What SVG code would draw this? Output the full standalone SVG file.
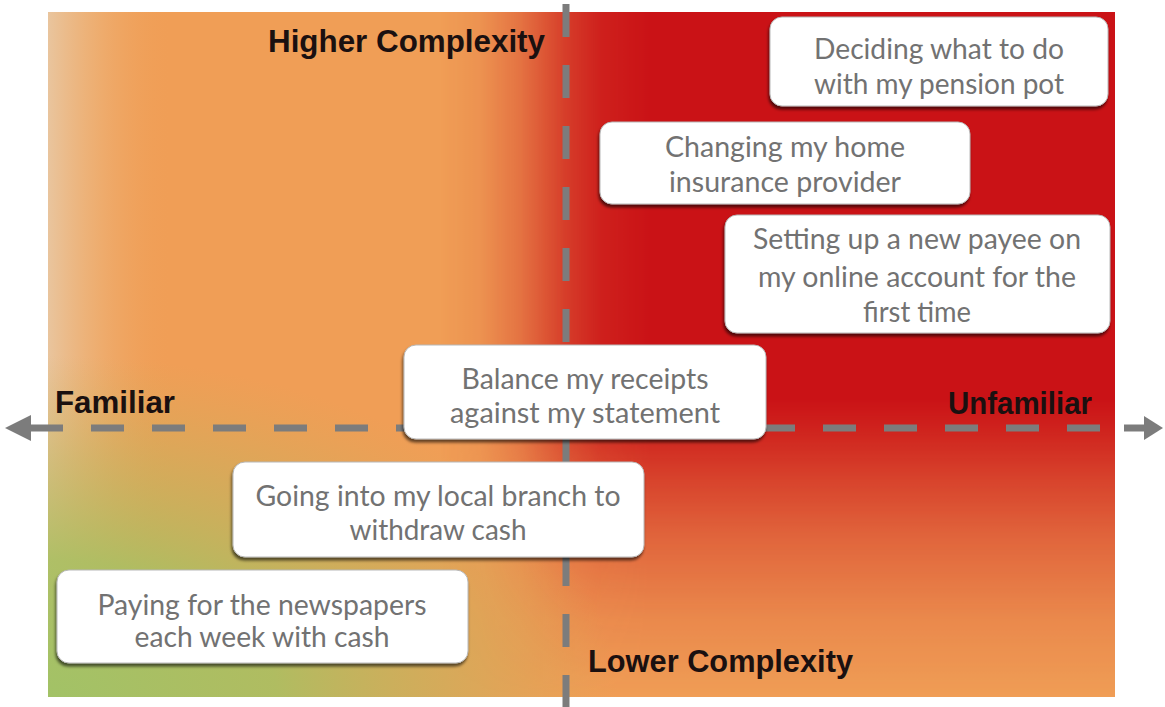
<svg xmlns="http://www.w3.org/2000/svg" width="1165" height="707" viewBox="0 0 1165 707">
  <defs>
    <style>
      .box { fill: #ffffff; stroke: #b8b8b8; stroke-width: 1; filter: url(#shadow); }
      .bt { font-family: Lato, "Liberation Sans", sans-serif; font-size: 28px; fill: #727272; text-anchor: middle; }
      .hd { font-family: "Liberation Sans", Arial, sans-serif; font-weight: bold; font-size: 31px; fill: #1a1010; }
      .axis { stroke: #7c7c7c; stroke-width: 7; fill: none; stroke-dasharray: 33 28; }
      .arrow { fill: #7c7c7c; }
    </style>
    <filter id="shadow" x="-10%" y="-20%" width="120%" height="150%">
      <feDropShadow dx="-1" dy="3" stdDeviation="1.5" flood-color="#000" flood-opacity="0.6"/>
    </filter>
    <linearGradient id="peach" gradientUnits="userSpaceOnUse" x1="48" y1="0" x2="170" y2="0">
      <stop offset="0" stop-color="#e9c59e" stop-opacity="1"/>
      <stop offset="0.4" stop-color="#ecb882" stop-opacity="0.6"/>
      <stop offset="1" stop-color="#f0a058" stop-opacity="0"/>
    </linearGradient>
    <radialGradient id="green" gradientUnits="userSpaceOnUse" cx="48" cy="697" r="570" gradientTransform="translate(48 697) scale(1 0.6) translate(-48 -697)">
      <stop offset="0" stop-color="#a2c266" stop-opacity="1"/>
      <stop offset="0.4" stop-color="#aabf62" stop-opacity="0.92"/>
      <stop offset="0.7" stop-color="#bcb65e" stop-opacity="0.5"/>
      <stop offset="1" stop-color="#cdae5a" stop-opacity="0"/>
    </radialGradient>
    <linearGradient id="mhG" gradientUnits="userSpaceOnUse" x1="440" y1="0" x2="660" y2="0">
      <stop offset="0" stop-color="#fff" stop-opacity="0"/>
      <stop offset="0.18" stop-color="#fff" stop-opacity="0.08"/>
      <stop offset="0.36" stop-color="#fff" stop-opacity="0.3"/>
      <stop offset="0.575" stop-color="#fff" stop-opacity="0.7"/>
      <stop offset="0.73" stop-color="#fff" stop-opacity="0.9"/>
      <stop offset="0.95" stop-color="#fff" stop-opacity="1"/>
    </linearGradient>
    <linearGradient id="mvG" gradientUnits="userSpaceOnUse" x1="0" y1="12" x2="0" y2="697">
      <stop offset="0" stop-color="#fff" stop-opacity="1"/>
      <stop offset="0.566" stop-color="#fff" stop-opacity="1"/>
      <stop offset="0.61" stop-color="#fff" stop-opacity="0.88"/>
      <stop offset="0.683" stop-color="#fff" stop-opacity="0.65"/>
      <stop offset="0.77" stop-color="#fff" stop-opacity="0.4"/>
      <stop offset="0.887" stop-color="#fff" stop-opacity="0.15"/>
      <stop offset="1" stop-color="#fff" stop-opacity="0"/>
    </linearGradient>
    <mask id="mH" maskUnits="userSpaceOnUse" x="0" y="0" width="1165" height="707">
      <rect x="0" y="0" width="1165" height="707" fill="url(#mhG)"/>
    </mask>
    <mask id="mV" maskUnits="userSpaceOnUse" x="0" y="0" width="1165" height="707">
      <rect x="0" y="0" width="1165" height="707" fill="url(#mvG)"/>
    </mask>
  </defs>

  <rect x="0" y="0" width="1165" height="707" fill="#ffffff"/>

  <g id="background">
    <rect x="48" y="12" width="1067" height="685" fill="#f09e56"/>
    <rect x="48" y="12" width="130" height="685" fill="url(#peach)"/>
    <g mask="url(#mH)">
      <rect x="48" y="12" width="1067" height="685" fill="#ca1216" mask="url(#mV)"/>
    </g>
    <rect x="48" y="12" width="640" height="685" fill="url(#green)"/>
  </g>

  <g id="connectors">
    <line class="axis" x1="566" y1="4" x2="566" y2="707"/>
    <line class="axis" x1="30" y1="428" x2="1100" y2="428"/>
    <polygon class="arrow" points="5,428 31,415 31,441"/>
    <line x1="1124" y1="428" x2="1146" y2="428" stroke="#7c7c7c" stroke-width="7"/>
    <polygon class="arrow" points="1163,428 1144,416 1144,440"/>
  </g>

  <g id="label-higher">
    <text class="hd" x="268" y="52" textLength="277" lengthAdjust="spacingAndGlyphs">Higher Complexity</text>
  </g>
  <g id="label-familiar">
    <text class="hd" x="55" y="413" textLength="120" lengthAdjust="spacingAndGlyphs">Familiar</text>
  </g>
  <g id="label-unfamiliar">
    <text class="hd" x="948" y="414" textLength="144" lengthAdjust="spacingAndGlyphs">Unfamiliar</text>
  </g>
  <g id="label-lower">
    <text class="hd" x="588" y="672" textLength="265" lengthAdjust="spacingAndGlyphs">Lower Complexity</text>
  </g>

  <g id="node-pension">
    <rect class="box" x="770" y="17" width="338" height="89" rx="12"/>
    <text class="bt" x="939" y="59" textLength="250" lengthAdjust="spacingAndGlyphs">Deciding what to do</text>
    <text class="bt" x="939" y="94" textLength="250" lengthAdjust="spacingAndGlyphs">with my pension pot</text>
  </g>
  <g id="node-insurance">
    <rect class="box" x="600" y="122" width="370" height="82" rx="12"/>
    <text class="bt" x="785" y="157" textLength="240" lengthAdjust="spacingAndGlyphs">Changing my home</text>
    <text class="bt" x="785" y="192" textLength="232" lengthAdjust="spacingAndGlyphs">insurance provider</text>
  </g>
  <g id="node-payee">
    <rect class="box" x="725" y="215" width="385" height="118" rx="12"/>
    <text class="bt" x="917" y="249" textLength="328" lengthAdjust="spacingAndGlyphs">Setting up a new payee on</text>
    <text class="bt" x="917" y="287" textLength="318" lengthAdjust="spacingAndGlyphs">my online account for the</text>
    <text class="bt" x="917" y="322" textLength="108" lengthAdjust="spacingAndGlyphs">first time</text>
  </g>
  <g id="node-receipts">
    <rect class="box" x="404" y="345" width="362" height="94" rx="12"/>
    <text class="bt" x="585" y="389" textLength="247" lengthAdjust="spacingAndGlyphs">Balance my receipts</text>
    <text class="bt" x="585" y="423" textLength="270" lengthAdjust="spacingAndGlyphs">against my statement</text>
  </g>
  <g id="node-branch">
    <rect class="box" x="233" y="462" width="411" height="95" rx="12"/>
    <text class="bt" x="438" y="506" textLength="365" lengthAdjust="spacingAndGlyphs">Going into my local branch to</text>
    <text class="bt" x="438" y="540" textLength="177" lengthAdjust="spacingAndGlyphs">withdraw cash</text>
  </g>
  <g id="node-newspapers">
    <rect class="box" x="57" y="570" width="411" height="93" rx="12"/>
    <text class="bt" x="262" y="615" textLength="329" lengthAdjust="spacingAndGlyphs">Paying for the newspapers</text>
    <text class="bt" x="262" y="647" textLength="255" lengthAdjust="spacingAndGlyphs">each week with cash</text>
  </g>
</svg>
